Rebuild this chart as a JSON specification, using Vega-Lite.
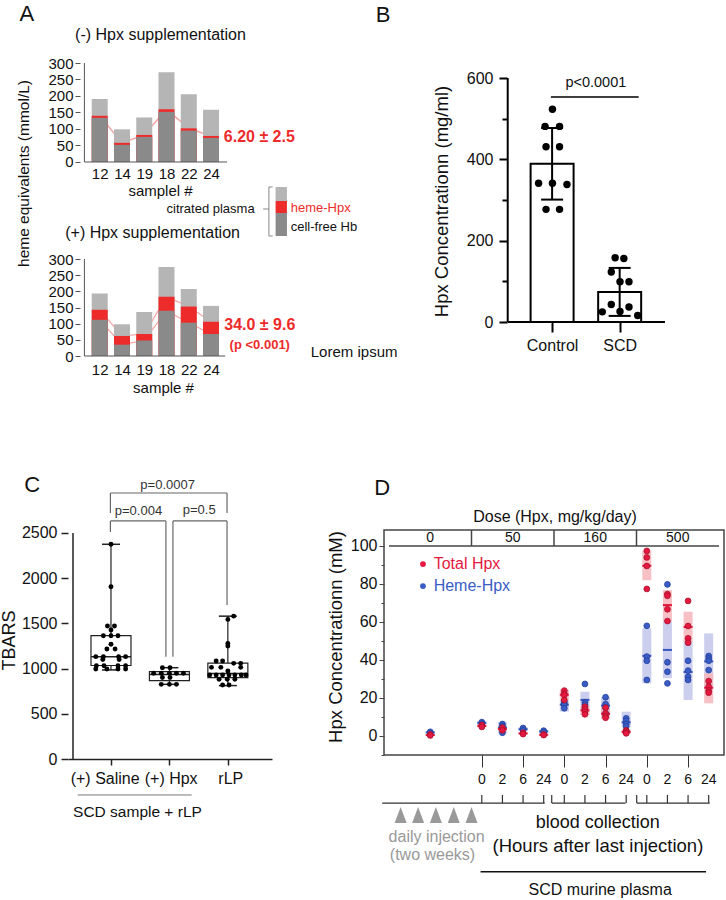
{
"$schema": "https://vega.github.io/schema/vega-lite/v6.json",
"autosize": "none",
"padding": {"left": 68, "top": 63, "right": 658, "bottom": 837},
"background": "white",
"config": {
 "font": "Liberation Sans",
 "view": {"stroke": null},
 "axis": {"grid": false, "labelColor": "#111", "titleColor": "#111", "domainColor": "#333", "tickColor": "#333", "labelFont": "Liberation Sans", "titleFont": "Liberation Sans", "labelOverlap": false, "labelFlush": false},
 "text": {"font": "Liberation Sans", "color": "#111"},
 "title": {"font": "Liberation Sans", "color": "#111"}
},
"datasets": {
 "A1": [
  {"sample":"12","idx":1,"hb":134,"hpx":140,"total":191},
  {"sample":"14","idx":2,"hb":52,"hpx":58,"total":99},
  {"sample":"19","idx":3,"hb":76,"hpx":82,"total":135},
  {"sample":"18","idx":4,"hb":152,"hpx":160,"total":272},
  {"sample":"22","idx":5,"hb":95,"hpx":102,"total":205},
  {"sample":"24","idx":6,"hb":73,"hpx":79,"total":158}
 ],
 "A2": [
  {"sample":"12","idx":1,"hb":112,"hpx":143,"total":193},
  {"sample":"14","idx":2,"hb":35,"hpx":62,"total":98},
  {"sample":"19","idx":3,"hb":48,"hpx":68,"total":136},
  {"sample":"18","idx":4,"hb":140,"hpx":183,"total":275},
  {"sample":"22","idx":5,"hb":103,"hpx":153,"total":207},
  {"sample":"24","idx":6,"hb":68,"hpx":106,"total":155}
 ],
 "Bsum": [
  {"group":"Control","idx":1,"mean":389,"lo":301,"hi":477},
  {"group":"SCD","idx":2,"mean":74,"lo":15,"hi":133}
 ],
 "Bdots": [
  {"group":"Control","pos":1.005,"v":523},{"group":"Control","pos":0.896,"v":481},{"group":"Control","pos":1.11,"v":481},
  {"group":"Control","pos":0.91,"v":431},{"group":"Control","pos":1.11,"v":431},{"group":"Control","pos":0.8,"v":341},
  {"group":"Control","pos":1.005,"v":341},{"group":"Control","pos":1.22,"v":338},{"group":"Control","pos":0.91,"v":277},
  {"group":"Control","pos":1.11,"v":277},
  {"group":"SCD","pos":1.933,"v":158},{"group":"SCD","pos":2.062,"v":156},{"group":"SCD","pos":1.876,"v":123},
  {"group":"SCD","pos":2.005,"v":99},{"group":"SCD","pos":2.138,"v":99},{"group":"SCD","pos":1.876,"v":43},
  {"group":"SCD","pos":2.138,"v":37},{"group":"SCD","pos":1.743,"v":25},{"group":"SCD","pos":2.005,"v":26},
  {"group":"SCD","pos":2.267,"v":16}
 ],
 "Cbox": [
  {"group":"(+) Saline","idx":1,"lo":985,"q1":1034,"med":1132,"q3":1364,"hi":2375},
  {"group":"(+) Hpx","idx":2,"lo":826,"q1":866,"med":935,"q3":966,"hi":1010},
  {"group":"rLP","idx":3,"lo":812,"q1":900,"med":945,"q3":1060,"hi":1580}
 ],
 "Cdots": [
  {"g":1,"pos":1.0,"v":2375},{"g":1,"pos":1.0,"v":1906},{"g":1,"pos":0.94,"v":1471},{"g":1,"pos":1.06,"v":1471},
  {"g":1,"pos":1.0,"v":1427},{"g":1,"pos":0.87,"v":1364},{"g":1,"pos":1.0,"v":1364},{"g":1,"pos":1.12,"v":1364},
  {"g":1,"pos":1.0,"v":1270},{"g":1,"pos":0.93,"v":1217},{"g":1,"pos":1.07,"v":1217},{"g":1,"pos":0.74,"v":1132},
  {"g":1,"pos":0.87,"v":1132},{"g":1,"pos":1.13,"v":1132},{"g":1,"pos":1.25,"v":1132},{"g":1,"pos":0.86,"v":1100},
  {"g":1,"pos":1.14,"v":1100},{"g":1,"pos":0.75,"v":1032},{"g":1,"pos":0.88,"v":1032},{"g":1,"pos":1.12,"v":1032},
  {"g":1,"pos":1.25,"v":1032},{"g":1,"pos":0.74,"v":995},{"g":1,"pos":0.93,"v":995},{"g":1,"pos":1.12,"v":995},
  {"g":1,"pos":1.25,"v":995},
  {"g":2,"pos":1.88,"v":1010},{"g":2,"pos":2.01,"v":1010},{"g":2,"pos":1.73,"v":948},{"g":2,"pos":1.86,"v":948},
  {"g":2,"pos":2.0,"v":948},{"g":2,"pos":2.12,"v":948},{"g":2,"pos":2.24,"v":948},{"g":2,"pos":1.88,"v":901},
  {"g":2,"pos":2.01,"v":901},{"g":2,"pos":1.86,"v":826},{"g":2,"pos":2.0,"v":826},{"g":2,"pos":2.12,"v":826},
  {"g":3,"pos":3.1,"v":1580},{"g":3,"pos":3.0,"v":1544},{"g":3,"pos":3.0,"v":1277},{"g":3,"pos":3.0,"v":1250},
  {"g":3,"pos":2.8,"v":1084},{"g":3,"pos":2.91,"v":1084},{"g":3,"pos":3.1,"v":1058},{"g":3,"pos":3.22,"v":1058},
  {"g":3,"pos":2.72,"v":1014},{"g":3,"pos":2.88,"v":1014},{"g":3,"pos":3.22,"v":1014},{"g":3,"pos":3.0,"v":973},
  {"g":3,"pos":2.69,"v":929},{"g":3,"pos":2.8,"v":929},{"g":3,"pos":2.91,"v":929},{"g":3,"pos":3.02,"v":929},
  {"g":3,"pos":3.12,"v":929},{"g":3,"pos":3.23,"v":929},{"g":3,"pos":3.31,"v":929},{"g":3,"pos":2.85,"v":882},
  {"g":3,"pos":2.99,"v":882},{"g":3,"pos":3.12,"v":882},{"g":3,"pos":2.91,"v":818},{"g":3,"pos":3.02,"v":818}
 ],
 "Dslots": [
  {"dose":50,"hour":"0","slot":0},{"dose":50,"hour":"2","slot":1},{"dose":50,"hour":"6","slot":2},{"dose":50,"hour":"24","slot":3},
  {"dose":160,"hour":"0","slot":4},{"dose":160,"hour":"2","slot":5},{"dose":160,"hour":"6","slot":6},{"dose":160,"hour":"24","slot":7},
  {"dose":500,"hour":"0","slot":8},{"dose":500,"hour":"2","slot":9},{"dose":500,"hour":"6","slot":10},{"dose":500,"hour":"24","slot":11}
 ],
 "Dsum": [
  {"slot":-2.5,"s":"Heme-Hpx","lo":1.3,"hi":2.5,"mean":1.9},
  {"slot":0,"s":"Heme-Hpx","lo":6.0,"hi":7.8,"mean":6.9},
  {"slot":1,"s":"Heme-Hpx","lo":1.5,"hi":7.3,"mean":4.4},
  {"slot":2,"s":"Heme-Hpx","lo":2.6,"hi":4.6,"mean":3.6},
  {"slot":3,"s":"Heme-Hpx","lo":1.6,"hi":3.2,"mean":2.4},
  {"slot":4,"s":"Heme-Hpx","lo":12.8,"hi":19.0,"mean":16.5},
  {"slot":5,"s":"Heme-Hpx","lo":15.1,"hi":23.3,"mean":19.0},
  {"slot":6,"s":"Heme-Hpx","lo":11.5,"hi":20.5,"mean":16.0},
  {"slot":7,"s":"Heme-Hpx","lo":4.6,"hi":12.8,"mean":7.2},
  {"slot":8,"s":"Heme-Hpx","lo":27.7,"hi":56.7,"mean":42.2},
  {"slot":9,"s":"Heme-Hpx","lo":30.4,"hi":60.2,"mean":45.3},
  {"slot":10,"s":"Heme-Hpx","lo":18.9,"hi":50.5,"mean":33.7},
  {"slot":11,"s":"Heme-Hpx","lo":25.2,"hi":54.0,"mean":39.3},
  {"slot":-2.5,"s":"Total Hpx","lo":0.1,"hi":0.9,"mean":0.5},
  {"slot":0,"s":"Total Hpx","lo":4.5,"hi":6.1,"mean":5.3},
  {"slot":1,"s":"Total Hpx","lo":2.6,"hi":4.8,"mean":3.7},
  {"slot":2,"s":"Total Hpx","lo":0.8,"hi":1.9,"mean":1.35},
  {"slot":3,"s":"Total Hpx","lo":0.3,"hi":1.0,"mean":0.65},
  {"slot":4,"s":"Total Hpx","lo":19.0,"hi":24.5,"mean":21.7},
  {"slot":5,"s":"Total Hpx","lo":11.0,"hi":16.0,"mean":13.5},
  {"slot":6,"s":"Total Hpx","lo":9.0,"hi":14.5,"mean":11.7},
  {"slot":7,"s":"Total Hpx","lo":1.0,"hi":3.4,"mean":2.2},
  {"slot":8,"s":"Total Hpx","lo":82.0,"hi":97.5,"mean":89.6},
  {"slot":9,"s":"Total Hpx","lo":60.2,"hi":76.8,"mean":68.9},
  {"slot":10,"s":"Total Hpx","lo":49.5,"hi":65.4,"mean":57.4},
  {"slot":11,"s":"Total Hpx","lo":17.2,"hi":33.0,"mean":25.4}
 ],
 "Ddots": [
  {"slot":-2.5,"dose":0,"s":"Heme-Hpx","v":2.2},{"slot":-2.5,"dose":0,"s":"Heme-Hpx","v":1.6},
  {"slot":0,"dose":50,"s":"Heme-Hpx","v":7.3},{"slot":0,"dose":50,"s":"Heme-Hpx","v":6.5},
  {"slot":1,"dose":50,"s":"Heme-Hpx","v":6.3},{"slot":1,"dose":50,"s":"Heme-Hpx","v":5.2},{"slot":1,"dose":50,"s":"Heme-Hpx","v":1.7},
  {"slot":2,"dose":50,"s":"Heme-Hpx","v":4.2},{"slot":2,"dose":50,"s":"Heme-Hpx","v":3.0},
  {"slot":3,"dose":50,"s":"Heme-Hpx","v":2.8},{"slot":3,"dose":50,"s":"Heme-Hpx","v":2.0},
  {"slot":4,"dose":160,"s":"Heme-Hpx","v":18.0},{"slot":4,"dose":160,"s":"Heme-Hpx","v":17.2},{"slot":4,"dose":160,"s":"Heme-Hpx","v":16.3},{"slot":4,"dose":160,"s":"Heme-Hpx","v":14.6},
  {"slot":5,"dose":160,"s":"Heme-Hpx","v":27.4},{"slot":5,"dose":160,"s":"Heme-Hpx","v":17.7},{"slot":5,"dose":160,"s":"Heme-Hpx","v":16.5},{"slot":5,"dose":160,"s":"Heme-Hpx","v":14.5},
  {"slot":6,"dose":160,"s":"Heme-Hpx","v":20.4},{"slot":6,"dose":160,"s":"Heme-Hpx","v":16.8},{"slot":6,"dose":160,"s":"Heme-Hpx","v":15.0},{"slot":6,"dose":160,"s":"Heme-Hpx","v":11.9},
  {"slot":7,"dose":160,"s":"Heme-Hpx","v":9.3},{"slot":7,"dose":160,"s":"Heme-Hpx","v":8.0},{"slot":7,"dose":160,"s":"Heme-Hpx","v":6.3},{"slot":7,"dose":160,"s":"Heme-Hpx","v":5.0},
  {"slot":8,"dose":500,"s":"Heme-Hpx","v":58.0},{"slot":8,"dose":500,"s":"Heme-Hpx","v":41.8},{"slot":8,"dose":500,"s":"Heme-Hpx","v":39.6},{"slot":8,"dose":500,"s":"Heme-Hpx","v":29.5},
  {"slot":9,"dose":500,"s":"Heme-Hpx","v":79.8},{"slot":9,"dose":500,"s":"Heme-Hpx","v":38.8},{"slot":9,"dose":500,"s":"Heme-Hpx","v":33.8},{"slot":9,"dose":500,"s":"Heme-Hpx","v":27.7},
  {"slot":10,"dose":500,"s":"Heme-Hpx","v":39.6},{"slot":10,"dose":500,"s":"Heme-Hpx","v":34.4},{"slot":10,"dose":500,"s":"Heme-Hpx","v":31.2},{"slot":10,"dose":500,"s":"Heme-Hpx","v":29.5},
  {"slot":11,"dose":500,"s":"Heme-Hpx","v":42.1},{"slot":11,"dose":500,"s":"Heme-Hpx","v":40.8},{"slot":11,"dose":500,"s":"Heme-Hpx","v":39.6},{"slot":11,"dose":500,"s":"Heme-Hpx","v":34.7},
  {"slot":-2.5,"dose":0,"s":"Total Hpx","v":0.8},{"slot":-2.5,"dose":0,"s":"Total Hpx","v":0.3},
  {"slot":0,"dose":50,"s":"Total Hpx","v":5.8},{"slot":0,"dose":50,"s":"Total Hpx","v":4.8},
  {"slot":1,"dose":50,"s":"Total Hpx","v":4.4},{"slot":1,"dose":50,"s":"Total Hpx","v":3.0},
  {"slot":2,"dose":50,"s":"Total Hpx","v":1.7},{"slot":2,"dose":50,"s":"Total Hpx","v":1.0},
  {"slot":3,"dose":50,"s":"Total Hpx","v":0.8},{"slot":3,"dose":50,"s":"Total Hpx","v":0.5},
  {"slot":4,"dose":160,"s":"Total Hpx","v":23.9},{"slot":4,"dose":160,"s":"Total Hpx","v":22.4},{"slot":4,"dose":160,"s":"Total Hpx","v":21.5},{"slot":4,"dose":160,"s":"Total Hpx","v":18.9},
  {"slot":5,"dose":160,"s":"Total Hpx","v":15.4},{"slot":5,"dose":160,"s":"Total Hpx","v":14.2},{"slot":5,"dose":160,"s":"Total Hpx","v":12.8},{"slot":5,"dose":160,"s":"Total Hpx","v":11.4},
  {"slot":6,"dose":160,"s":"Total Hpx","v":14.9},{"slot":6,"dose":160,"s":"Total Hpx","v":11.9},{"slot":6,"dose":160,"s":"Total Hpx","v":10.5},{"slot":6,"dose":160,"s":"Total Hpx","v":9.6},
  {"slot":7,"dose":160,"s":"Total Hpx","v":3.0},{"slot":7,"dose":160,"s":"Total Hpx","v":2.6},{"slot":7,"dose":160,"s":"Total Hpx","v":1.8},{"slot":7,"dose":160,"s":"Total Hpx","v":1.4},
  {"slot":8,"dose":500,"s":"Total Hpx","v":97.4},{"slot":8,"dose":500,"s":"Total Hpx","v":94.0},{"slot":8,"dose":500,"s":"Total Hpx","v":89.5},{"slot":8,"dose":500,"s":"Total Hpx","v":77.4},
  {"slot":9,"dose":500,"s":"Total Hpx","v":74.7},{"slot":9,"dose":500,"s":"Total Hpx","v":73.8},{"slot":9,"dose":500,"s":"Total Hpx","v":66.7},{"slot":9,"dose":500,"s":"Total Hpx","v":60.5},
  {"slot":10,"dose":500,"s":"Total Hpx","v":71.1},{"slot":10,"dose":500,"s":"Total Hpx","v":57.9},{"slot":10,"dose":500,"s":"Total Hpx","v":51.4},{"slot":10,"dose":500,"s":"Total Hpx","v":49.1},
  {"slot":11,"dose":500,"s":"Total Hpx","v":28.9},{"slot":11,"dose":500,"s":"Total Hpx","v":26.0},{"slot":11,"dose":500,"s":"Total Hpx","v":23.9},{"slot":11,"dose":500,"s":"Total Hpx","v":22.8}
 ],
 "Dinj": [
  {"day":1,"pos":-3.935},{"day":2,"pos":-3.088},{"day":3,"pos":-2.226},{"day":4,"pos":-1.362},{"day":5,"pos":-0.5}
 ]
},
"columns": 2,
"spacing": {"row": 174, "column": 112},
"bounds": "flush",
"align": "each",
"concat": [
 {
  "width": 204, "height": 293,
  "resolve": {"scale": {"y": "independent"}, "axis": {"x": "independent", "y": "independent"}},
  "layer": [
   {"layer": [
    {"data": {"name": "A1"}, "mark": {"type": "line", "color": "#f7a3a3", "strokeWidth": 1.5},
     "encoding": {
      "x": {"field": "idx", "type": "quantitative", "scale": {"domain": [-0.2, 8.514], "nice": false, "zero": false},
       "axis": {"orient": "bottom", "offset": -194, "values": [1,2,3,4,5,6], "labelExpr": "['','12','14','19','18','22','24'][datum.value]", "labelOverlap": false, "domain": false, "ticks": false, "tickSize": 0, "labelPadding": 4, "labelFontSize": 15, "title": "samplel #", "titleFontSize": 15, "titleFontWeight": "normal", "titleX": 92, "titleY": 28, "titleBaseline": "middle"}},
      "y": {"field": "hpx", "type": "quantitative", "scale": {"domain": [-587.9, 300], "nice": false, "zero": false},
       "axis": {"orient": "left", "offset": -12, "values": [0,50,100,150,200,250,300], "labelOverlap": false, "domain": false, "tickSize": 5, "tickColor": "#555", "labelFontSize": 15, "labelPadding": 2, "title": "heme equivalents (mmol/L)", "titleFontSize": 15.5, "titleFontWeight": "normal", "titleX": -57, "titleY": 110, "titleBaseline": "middle", "titleAngle": 270}}
     }},
    {"data": {"name": "A1"}, "mark": {"type": "bar", "size": 16, "color": "#b5b5b5"}, "encoding": {"x": {"field": "idx", "type": "quantitative"}, "y": {"field": "total", "type": "quantitative"}, "y2": {"datum": 0}}},
    {"data": {"name": "A1"}, "mark": {"type": "bar", "size": 16, "color": "#ee2b2b"}, "encoding": {"x": {"field": "idx", "type": "quantitative"}, "y": {"field": "hpx", "type": "quantitative"}, "y2": {"datum": 0}}},
    {"data": {"name": "A1"}, "mark": {"type": "bar", "size": 16, "color": "#8a8a8a"}, "encoding": {"x": {"field": "idx", "type": "quantitative"}, "y": {"field": "hb", "type": "quantitative"}, "y2": {"datum": 0}}},
    {"data": {"values": [{}]}, "mark": {"type": "rule", "color": "#555", "strokeWidth": 1}, "encoding": {"x": {"datum": 0.313}, "y": {"datum": 0}, "y2": {"datum": 300}}},
    {"data": {"values": [{}]}, "mark": {"type": "rule", "color": "#555", "strokeWidth": 1}, "encoding": {"x": {"datum": 0.313}, "x2": {"datum": 6.72}, "y": {"datum": 0}}},
    {"data": {"values": [{}]}, "mark": {"type": "text", "text": "A", "fontSize": 22, "align": "center", "baseline": "middle"}, "encoding": {"x": {"datum": -2.27}, "y": {"datum": 450}}},
    {"data": {"values": [{}]}, "mark": {"type": "text", "text": "(-) Hpx supplementation", "fontSize": 16, "align": "center", "baseline": "middle"}, "encoding": {"x": {"datum": 3.73}, "y": {"datum": 384.8}}},
    {"data": {"values": [{}]}, "mark": {"type": "text", "text": "6.20 ± 2.5", "fontSize": 16, "fontWeight": "bold", "color": "#ee2b2b", "align": "center", "baseline": "middle"}, "encoding": {"x": {"datum": 8.17}, "y": {"datum": 75.8}}},
    {"data": {"values": [{}]}, "mark": {"type": "rect", "color": "#b5b5b5"}, "encoding": {"x": {"datum": 8.9}, "x2": {"datum": 9.41}, "y": {"datum": -75.8}, "y2": {"datum": -118.2}}},
    {"data": {"values": [{}]}, "mark": {"type": "rect", "color": "#ee2b2b"}, "encoding": {"x": {"datum": 8.9}, "x2": {"datum": 9.41}, "y": {"datum": -118.2}, "y2": {"datum": -154.5}}},
    {"data": {"values": [{}]}, "mark": {"type": "rect", "color": "#8a8a8a"}, "encoding": {"x": {"datum": 8.9}, "x2": {"datum": 9.41}, "y": {"datum": -154.5}, "y2": {"datum": -224.2}}},
    {"data": {"values": [{}]}, "mark": {"type": "rule", "color": "#888", "strokeWidth": 1}, "encoding": {"x": {"datum": 8.6}, "y": {"datum": -75.8}, "y2": {"datum": -224.2}}},
    {"data": {"values": [{}]}, "mark": {"type": "rule", "color": "#888", "strokeWidth": 1}, "encoding": {"x": {"datum": 8.6}, "x2": {"datum": 8.77}, "y": {"datum": -75.8}}},
    {"data": {"values": [{}]}, "mark": {"type": "rule", "color": "#888", "strokeWidth": 1}, "encoding": {"x": {"datum": 8.6}, "x2": {"datum": 8.77}, "y": {"datum": -224.2}}},
    {"data": {"values": [{}]}, "mark": {"type": "rule", "color": "#888", "strokeWidth": 1}, "encoding": {"x": {"datum": 8.34}, "x2": {"datum": 8.6}, "y": {"datum": -142.4}}},
    {"data": {"values": [{}]}, "mark": {"type": "text", "text": "citrated plasma", "fontSize": 13, "align": "right", "baseline": "middle"}, "encoding": {"x": {"datum": 7.96}, "y": {"datum": -142.4}}},
    {"data": {"values": [{}]}, "mark": {"type": "text", "text": "heme-Hpx", "fontSize": 13, "color": "#ee2b2b", "align": "left", "baseline": "middle"}, "encoding": {"x": {"datum": 9.58}, "y": {"datum": -139.4}}},
    {"data": {"values": [{}]}, "mark": {"type": "text", "text": "cell-free Hb", "fontSize": 13, "align": "left", "baseline": "middle"}, "encoding": {"x": {"datum": 9.58}, "y": {"datum": -197}}}
   ]},
   {"layer": [
    {"data": {"name": "A2"}, "mark": {"type": "line", "color": "#f7a3a3", "strokeWidth": 1.2},
     "encoding": {
      "x": {"field": "idx", "type": "quantitative", "scale": {"domain": [-0.2, 8.514], "nice": false, "zero": false},
       "axis": {"orient": "bottom", "offset": 0, "values": [1,2,3,4,5,6], "labelExpr": "['','12','14','19','18','22','24'][datum.value]", "labelOverlap": false, "domain": false, "ticks": false, "tickSize": 0, "labelPadding": 6, "labelFontSize": 15, "title": "sample #", "titleFontSize": 15, "titleFontWeight": "normal", "titleX": 95, "titleY": 31, "titleBaseline": "middle"}},
      "y": {"field": "hpx", "type": "quantitative", "scale": {"domain": [0, 906.2], "nice": false, "zero": false},
       "axis": {"orient": "left", "offset": -12, "values": [0,50,100,150,200,250,300], "labelOverlap": false, "domain": false, "tickSize": 5, "tickColor": "#555", "labelFontSize": 15, "labelPadding": 2, "title": null}}
     }},
    {"data": {"name": "A2"}, "mark": {"type": "line", "color": "#f7a3a3", "strokeWidth": 1.2}, "encoding": {"x": {"field": "idx", "type": "quantitative"}, "y": {"field": "hb", "type": "quantitative"}}},
    {"data": {"name": "A2"}, "mark": {"type": "bar", "size": 16, "color": "#b5b5b5"}, "encoding": {"x": {"field": "idx", "type": "quantitative"}, "y": {"field": "total", "type": "quantitative"}, "y2": {"datum": 0}}},
    {"data": {"name": "A2"}, "mark": {"type": "bar", "size": 16, "color": "#ee2b2b"}, "encoding": {"x": {"field": "idx", "type": "quantitative"}, "y": {"field": "hpx", "type": "quantitative"}, "y2": {"datum": 0}}},
    {"data": {"name": "A2"}, "mark": {"type": "bar", "size": 16, "color": "#8a8a8a"}, "encoding": {"x": {"field": "idx", "type": "quantitative"}, "y": {"field": "hb", "type": "quantitative"}, "y2": {"datum": 0}}},
    {"data": {"values": [{}]}, "mark": {"type": "rule", "color": "#555", "strokeWidth": 1}, "encoding": {"x": {"datum": 0.313}, "y": {"datum": 0}, "y2": {"datum": 300}}},
    {"data": {"values": [{}]}, "mark": {"type": "rule", "color": "#555", "strokeWidth": 1}, "encoding": {"x": {"datum": 0.313}, "x2": {"datum": 6.64}, "y": {"datum": 0}}},
    {"data": {"values": [{}]}, "mark": {"type": "text", "text": "(+) Hpx supplementation", "fontSize": 16, "align": "center", "baseline": "middle"}, "encoding": {"x": {"datum": 3.375}, "y": {"datum": 380.4}}},
    {"data": {"values": [{}]}, "mark": {"type": "text", "text": "34.0 ± 9.6", "fontSize": 16, "fontWeight": "bold", "color": "#ee2b2b", "align": "center", "baseline": "middle"}, "encoding": {"x": {"datum": 8.19}, "y": {"datum": 95.9}}},
    {"data": {"values": [{}]}, "mark": {"type": "text", "text": "(p <0.001)", "fontSize": 13, "fontWeight": "bold", "color": "#ee2b2b", "align": "center", "baseline": "middle"}, "encoding": {"x": {"datum": 8.19}, "y": {"datum": 34}}},
    {"data": {"values": [{}]}, "mark": {"type": "text", "text": "Lorem ipsum", "fontSize": 15, "align": "left", "baseline": "middle"}, "encoding": {"x": {"datum": 10.48}, "y": {"datum": 12.4}}}
   ]}
  ]
 },
 {
  "width": 286, "height": 293,
  "resolve": {"axis": {"y": "independent"}},
  "layer": [
   {"layer": [
    {"data": {"name": "Bsum"}, "mark": {"type": "bar", "size": 43, "fill": "white", "stroke": "black", "strokeWidth": 2},
     "encoding": {
      "x": {"field": "idx", "type": "quantitative", "scale": {"domain": [-1.414, 2.671], "nice": false, "zero": false},
       "axis": {"orient": "bottom", "offset": -34, "values": [1,2], "labelExpr": "datum.value == 1 ? 'Control' : 'SCD'", "labelOverlap": false, "domain": false, "tickSize": 10, "tickWidth": 2, "tickColor": "black", "labelFontSize": 16, "labelPadding": 5, "title": null}},
      "y": {"field": "mean", "type": "quantitative", "scale": {"domain": [-83.6, 636.9], "nice": false, "zero": false},
       "axis": {"orient": "left", "offset": -123, "values": [0,200,400,600], "labelOverlap": false, "domain": false, "tickSize": 8, "tickWidth": 2, "tickColor": "black", "labelFontSize": 16, "labelPadding": 6, "title": "Hpx Concentrationn (mg/ml)", "titleFontSize": 18.5, "titleFontWeight": "normal", "titleX": -65.5, "titleY": 138, "titleBaseline": "middle", "titleAngle": 270}},
      "y2": {"datum": 0}
     }},
    {"data": {"name": "Bsum"}, "mark": {"type": "rule", "color": "black", "strokeWidth": 2}, "encoding": {"x": {"field": "idx", "type": "quantitative"}, "y": {"field": "lo", "type": "quantitative"}, "y2": {"field": "hi"}}},
    {"data": {"name": "Bsum"}, "mark": {"type": "tick", "orient": "horizontal", "size": 22, "thickness": 2, "color": "black", "opacity": 1}, "encoding": {"x": {"field": "idx", "type": "quantitative"}, "y": {"field": "hi", "type": "quantitative"}}},
    {"data": {"name": "Bsum"}, "mark": {"type": "tick", "orient": "horizontal", "size": 22, "thickness": 2, "color": "black", "opacity": 1}, "encoding": {"x": {"field": "idx", "type": "quantitative"}, "y": {"field": "lo", "type": "quantitative"}}},
    {"data": {"name": "Bdots"}, "mark": {"type": "circle", "size": 55, "color": "black", "opacity": 1}, "encoding": {"x": {"field": "pos", "type": "quantitative"}, "y": {"field": "v", "type": "quantitative"}}},
    {"data": {"values": [{}]}, "mark": {"type": "rule", "color": "black", "strokeWidth": 2}, "encoding": {"x": {"datum": 0.343}, "x2": {"datum": 2.671}, "y": {"datum": 0}}},
    {"data": {"values": [{}]}, "mark": {"type": "rule", "color": "black", "strokeWidth": 1.5}, "encoding": {"x": {"datum": 0.982}, "x2": {"datum": 2.281}, "y": {"datum": 553}}},
    {"data": {"values": [{}]}, "mark": {"type": "text", "text": "p<0.0001", "fontSize": 14.5, "align": "center", "baseline": "middle"}, "encoding": {"x": {"datum": 1.647}, "y": {"datum": 587}}},
    {"data": {"values": [{}]}, "mark": {"type": "text", "text": "B", "fontSize": 22, "align": "center", "baseline": "middle"}, "encoding": {"x": {"datum": -1.5}, "y": {"datum": 755}}}
   ]},
   {"data": {"values": [{}]}, "mark": {"type": "rule", "color": "black", "strokeWidth": 2},
    "encoding": {"x": {"datum": 0.343}, "y": {"datum": 0, "axis": {"orient": "left", "offset": -123, "values": [100,300,500], "labels": false, "domain": false, "tickSize": 5, "tickWidth": 2, "tickColor": "black", "title": null}}, "y2": {"datum": 600}}}
  ]
 },
 {
  "width": 204, "height": 229,
  "layer": [
   {"data": {"name": "Cbox"}, "mark": {"type": "rule", "color": "#222", "strokeWidth": 1.2},
    "encoding": {
     "x": {"field": "idx", "type": "quantitative", "scale": {"domain": [0.35, 3.67], "nice": false, "zero": false},
      "axis": {"orient": "bottom", "values": [1,2,3], "labels": false, "domainColor": "#222", "domainWidth": 1.5, "tickSize": 6, "tickWidth": 1.5, "tickColor": "#222", "title": null}},
     "y": {"field": "lo", "type": "quantitative", "scale": {"domain": [0, 2533], "nice": false, "zero": false},
      "axis": {"orient": "left", "values": [0,500,1000,1500,2000,2500], "format": "d", "labelOverlap": false, "domain": false, "tickSize": 7, "tickWidth": 1.5, "tickColor": "#222", "labelFontSize": 16, "labelPadding": 4, "title": "TBARS", "titleFontSize": 18, "titleFontWeight": "normal", "titleX": -58.5, "titleY": 110, "titleBaseline": "middle", "titleAngle": 270}},
     "y2": {"field": "hi"}
    }},
   {"data": {"name": "Cbox"}, "mark": {"type": "bar", "size": 40, "fill": "white", "stroke": "#222", "strokeWidth": 1.2}, "encoding": {"x": {"field": "idx", "type": "quantitative"}, "y": {"field": "q3", "type": "quantitative"}, "y2": {"field": "q1"}}},
   {"data": {"name": "Cbox"}, "mark": {"type": "tick", "orient": "horizontal", "size": 40, "thickness": 1.5, "color": "#222", "opacity": 1}, "encoding": {"x": {"field": "idx", "type": "quantitative"}, "y": {"field": "med", "type": "quantitative"}}},
   {"data": {"name": "Cbox"}, "mark": {"type": "tick", "orient": "horizontal", "size": 18, "thickness": 1.5, "color": "#222", "opacity": 1}, "encoding": {"x": {"field": "idx", "type": "quantitative"}, "y": {"field": "hi", "type": "quantitative"}}},
   {"data": {"name": "Cbox"}, "mark": {"type": "tick", "orient": "horizontal", "size": 18, "thickness": 1.5, "color": "#222", "opacity": 1}, "encoding": {"x": {"field": "idx", "type": "quantitative"}, "y": {"field": "lo", "type": "quantitative"}}},
   {"data": {"name": "Cdots"}, "mark": {"type": "circle", "size": 24, "color": "black", "opacity": 1}, "encoding": {"x": {"field": "pos", "type": "quantitative"}, "y": {"field": "v", "type": "quantitative"}}},
   {"data": {"values": [{}]}, "mark": {"type": "rule", "color": "#222", "strokeWidth": 1.5}, "encoding": {"x": {"datum": 0.35}, "y": {"datum": 0}, "y2": {"datum": 2500}}},
   {"data": {"values": [{}]}, "mark": {"type": "rule", "color": "#666", "strokeWidth": 1.2}, "encoding": {"x": {"datum": 0.99}, "x2": {"datum": 2.986}, "y": {"datum": 2942}}},
   {"data": {"values": [{}]}, "mark": {"type": "rule", "color": "#666", "strokeWidth": 1.2}, "encoding": {"x": {"datum": 0.99}, "y": {"datum": 2942}, "y2": {"datum": 2721}}},
   {"data": {"values": [{}]}, "mark": {"type": "rule", "color": "#666", "strokeWidth": 1.2}, "encoding": {"x": {"datum": 2.986}, "y": {"datum": 2942}, "y2": {"datum": 2721}}},
   {"data": {"values": [{}]}, "mark": {"type": "rule", "color": "#666", "strokeWidth": 1.2}, "encoding": {"x": {"datum": 0.99}, "x2": {"datum": 1.94}, "y": {"datum": 2633}}},
   {"data": {"values": [{}]}, "mark": {"type": "rule", "color": "#666", "strokeWidth": 1.2}, "encoding": {"x": {"datum": 0.99}, "y": {"datum": 2633}, "y2": {"datum": 2511}}},
   {"data": {"values": [{}]}, "mark": {"type": "rule", "color": "#666", "strokeWidth": 1.2}, "encoding": {"x": {"datum": 1.94}, "y": {"datum": 2633}, "y2": {"datum": 1132}}},
   {"data": {"values": [{}]}, "mark": {"type": "rule", "color": "#666", "strokeWidth": 1.2}, "encoding": {"x": {"datum": 2.06}, "x2": {"datum": 2.986}, "y": {"datum": 2633}}},
   {"data": {"values": [{}]}, "mark": {"type": "rule", "color": "#666", "strokeWidth": 1.2}, "encoding": {"x": {"datum": 2.06}, "y": {"datum": 2633}, "y2": {"datum": 1132}}},
   {"data": {"values": [{}]}, "mark": {"type": "rule", "color": "#666", "strokeWidth": 1.2}, "encoding": {"x": {"datum": 2.986}, "y": {"datum": 2633}, "y2": {"datum": 1703}}},
   {"data": {"values": [{}]}, "mark": {"type": "rule", "color": "#777", "strokeWidth": 1}, "encoding": {"x": {"datum": 0.43}, "x2": {"datum": 2.38}, "y": {"datum": -398}}},
   {"data": {"values": [{}]}, "mark": {"type": "text", "text": "(+) Saline", "fontSize": 16, "align": "center", "baseline": "middle"}, "encoding": {"x": {"datum": 0.9}, "y": {"datum": -224.6}}},
   {"data": {"values": [{}]}, "mark": {"type": "text", "text": "(+) Hpx", "fontSize": 16, "align": "center", "baseline": "middle"}, "encoding": {"x": {"datum": 2.03}, "y": {"datum": -224.6}}},
   {"data": {"values": [{}]}, "mark": {"type": "text", "text": "rLP", "fontSize": 16, "align": "center", "baseline": "middle"}, "encoding": {"x": {"datum": 3.05}, "y": {"datum": -224.6}}},
   {"data": {"values": [{}]}, "mark": {"type": "text", "text": "p=0.0007", "fontSize": 13, "color": "#333", "align": "center", "baseline": "middle"}, "encoding": {"x": {"datum": 1.97}, "y": {"datum": 3031}}},
   {"data": {"values": [{}]}, "mark": {"type": "text", "text": "p=0.004", "fontSize": 13, "color": "#333", "align": "center", "baseline": "middle"}, "encoding": {"x": {"datum": 1.47}, "y": {"datum": 2743}}},
   {"data": {"values": [{}]}, "mark": {"type": "text", "text": "p=0.5", "fontSize": 13, "color": "#333", "align": "center", "baseline": "middle"}, "encoding": {"x": {"datum": 2.51}, "y": {"datum": 2754}}},
   {"data": {"values": [{}]}, "mark": {"type": "text", "text": "C", "fontSize": 22, "align": "center", "baseline": "middle"}, "encoding": {"x": {"datum": -0.35}, "y": {"datum": 3031}}},
   {"data": {"values": [{}]}, "mark": {"type": "text", "text": "SCD sample + rLP", "fontSize": 15.5, "align": "center", "baseline": "middle"}, "encoding": {"x": {"datum": 1.453}, "y": {"datum": -584}}}
  ]
 },
 {
  "width": 340, "height": 225,
  "view": {"stroke": "#444", "strokeWidth": 1.5},
  "resolve": {"axis": {"y": "independent"}},
  "layer": [
   {"layer": [
    {"data": {"name": "Dsum"}, "transform": [{"filter": "datum.s == 'Heme-Hpx'"}], "mark": {"type": "bar", "size": 9, "color": "#c3c6ea", "opacity": 0.85},
     "encoding": {
      "x": {"field": "slot", "type": "quantitative", "scale": {"domain": [-4.5, 11.5], "nice": false, "zero": false},
       "axis": {"orient": "bottom", "values": [0,1,2,3,4,5,6,7,8,9,10,11], "labels": false, "domain": false, "tickSize": 12, "tickColor": "#333", "title": null}},
      "y": {"field": "lo", "type": "quantitative", "scale": {"domain": [-10, 108.42], "nice": false, "zero": false},
       "axis": {"orient": "left", "values": [0,20,40,60,80,100], "labelOverlap": false, "domain": false, "tickSize": 5, "tickColor": "#444", "labelFontSize": 16, "labelPadding": 2, "title": "Hpx Concentrationn (mM)", "titleFontSize": 18.5, "titleFontWeight": "normal", "titleX": -48.5, "titleY": 106.5, "titleBaseline": "middle", "titleAngle": 270}},
      "y2": {"field": "hi"}
     }},
    {"data": {"name": "Dsum"}, "transform": [{"filter": "datum.s == 'Total Hpx'"}], "mark": {"type": "bar", "size": 9, "color": "#f5b5ba", "opacity": 0.85}, "encoding": {"x": {"field": "slot", "type": "quantitative"}, "y": {"field": "lo", "type": "quantitative"}, "y2": {"field": "hi"}}},
    {"data": {"name": "Dsum"}, "mark": {"type": "tick", "orient": "horizontal", "size": 9, "thickness": 2, "opacity": 1},
     "encoding": {"x": {"field": "slot", "type": "quantitative"}, "y": {"field": "mean", "type": "quantitative"}, "color": {"field": "s", "type": "nominal", "scale": {"domain": ["Heme-Hpx", "Total Hpx"], "range": ["#3656c0", "#e3173e"]}, "legend": null}}},
    {"data": {"name": "Ddots"}, "mark": {"type": "circle", "size": 34, "opacity": 1, "strokeWidth": 0.8},
     "encoding": {"x": {"field": "slot", "type": "quantitative"}, "y": {"field": "v", "type": "quantitative"},
      "fill": {"field": "s", "type": "nominal", "scale": {"domain": ["Heme-Hpx", "Total Hpx"], "range": ["#3a5cc4", "#e5183f"]}, "legend": null},
      "stroke": {"field": "s", "type": "nominal", "scale": {"domain": ["Heme-Hpx", "Total Hpx"], "range": ["#22409a", "#a8102c"]}, "legend": null}}},
    {"data": {"values": [{}]}, "mark": {"type": "rule", "color": "#444", "strokeWidth": 1.5}, "encoding": {"x": {"datum": -0.5}, "y": {"datum": 100}, "y2": {"datum": 108.42}}},
    {"data": {"values": [{}]}, "mark": {"type": "rule", "color": "#444", "strokeWidth": 1.5}, "encoding": {"x": {"datum": 3.5}, "y": {"datum": 100}, "y2": {"datum": 108.42}}},
    {"data": {"values": [{}]}, "mark": {"type": "rule", "color": "#444", "strokeWidth": 1.5}, "encoding": {"x": {"datum": 7.5}, "y": {"datum": 100}, "y2": {"datum": 108.42}}},
    {"data": {"name": "Ddots"}, "transform": [{"aggregate": [{"op": "count", "as": "n"}], "groupby": ["dose", "slot"]}, {"aggregate": [{"op": "mean", "field": "slot", "as": "mid"}], "groupby": ["dose"]}],
     "mark": {"type": "text", "fontSize": 14, "align": "center", "baseline": "middle"},
     "encoding": {"x": {"field": "mid", "type": "quantitative"}, "y": {"datum": 104.2}, "text": {"field": "dose", "type": "nominal"}}},
    {"data": {"name": "Dslots"}, "mark": {"type": "text", "fontSize": 14, "align": "center", "baseline": "middle"},
     "encoding": {"x": {"field": "slot", "type": "quantitative"}, "y": {"datum": -22.9}, "text": {"field": "hour", "type": "nominal"}}},
    {"data": {"values": [{}]}, "mark": {"type": "text", "text": "Dose (Hpx, mg/kg/day)", "fontSize": 16, "align": "center", "baseline": "middle"}, "encoding": {"x": {"datum": 3.547}, "y": {"datum": 115.3}}},
    {"data": {"values": [{}]}, "mark": {"type": "circle", "size": 34, "color": "#e5183f", "opacity": 1}, "encoding": {"x": {"datum": -2.853}, "y": {"datum": 90.5}}},
    {"data": {"values": [{}]}, "mark": {"type": "circle", "size": 34, "color": "#3a5cc4", "opacity": 1}, "encoding": {"x": {"datum": -2.853}, "y": {"datum": 78.9}}},
    {"data": {"values": [{}]}, "mark": {"type": "text", "text": "Total Hpx", "fontSize": 16, "color": "#e5183f", "align": "left", "baseline": "middle"}, "encoding": {"x": {"datum": -2.335}, "y": {"datum": 90.3}}},
    {"data": {"values": [{}]}, "mark": {"type": "text", "text": "Heme-Hpx", "fontSize": 16, "color": "#3a5cc4", "align": "left", "baseline": "middle"}, "encoding": {"x": {"datum": -2.335}, "y": {"datum": 78.7}}},
    {"data": {"values": [{}]}, "mark": {"type": "text", "text": "D", "fontSize": 22, "align": "center", "baseline": "middle"}, "encoding": {"x": {"datum": -4.83}, "y": {"datum": 130.5}}},
    {"data": {"values": [{}]}, "mark": {"type": "rule", "color": "#333", "strokeWidth": 1.2}, "encoding": {"x": {"datum": -4.83}, "x2": {"datum": 3.05}, "y": {"datum": -35.3}}},
    {"data": {"values": [{}]}, "mark": {"type": "rule", "color": "#333", "strokeWidth": 1.2}, "encoding": {"x": {"datum": 3.39}, "x2": {"datum": 6.97}, "y": {"datum": -35.3}}},
    {"data": {"values": [{}]}, "mark": {"type": "rule", "color": "#333", "strokeWidth": 1.2}, "encoding": {"x": {"datum": 7.51}, "x2": {"datum": 11.05}, "y": {"datum": -35.3}}},
    {"data": {"values": [{}]}, "mark": {"type": "rule", "color": "#333", "strokeWidth": 1.2}, "encoding": {"x": {"datum": 3.39}, "y": {"datum": -35.3}, "y2": {"datum": -31}}},
    {"data": {"values": [{}]}, "mark": {"type": "rule", "color": "#333", "strokeWidth": 1.2}, "encoding": {"x": {"datum": 7.51}, "y": {"datum": -35.3}, "y2": {"datum": -31}}},
    {"data": {"name": "Dslots"}, "mark": {"type": "rule", "color": "#333", "strokeWidth": 1.2},
     "encoding": {"x": {"field": "slot", "type": "quantitative"}, "y": {"datum": -35.3}, "y2": {"datum": -31}}},
    {"data": {"name": "Dinj"}, "mark": {"type": "point", "shape": "M0,-1L0.75,1L-0.75,1Z", "filled": true, "size": 256, "color": "#999", "opacity": 1},
     "encoding": {"x": {"field": "pos", "type": "quantitative"}, "y": {"datum": -41.6}}},
    {"data": {"values": [{}]}, "mark": {"type": "text", "text": "daily injection", "fontSize": 16, "color": "#999", "align": "center", "baseline": "middle"}, "encoding": {"x": {"datum": -2.19}, "y": {"datum": -53.2}}},
    {"data": {"values": [{}]}, "mark": {"type": "text", "text": "(two weeks)", "fontSize": 16, "color": "#999", "align": "center", "baseline": "middle"}, "encoding": {"x": {"datum": -2.39}, "y": {"datum": -62.6}}},
    {"data": {"values": [{}]}, "mark": {"type": "text", "text": "blood collection", "fontSize": 18, "align": "center", "baseline": "middle"}, "encoding": {"x": {"datum": 5.62}, "y": {"datum": -45.8}}},
    {"data": {"values": [{}]}, "mark": {"type": "text", "text": "(Hours after last injection)", "fontSize": 18.5, "align": "center", "baseline": "middle"}, "encoding": {"x": {"datum": 5.63}, "y": {"datum": -57.9}}},
    {"data": {"values": [{}]}, "mark": {"type": "rule", "color": "#111", "strokeWidth": 1.5}, "encoding": {"x": {"datum": -0.06}, "x2": {"datum": 10.87}, "y": {"datum": -71.4}}},
    {"data": {"values": [{}]}, "mark": {"type": "text", "text": "SCD murine plasma", "fontSize": 16, "align": "center", "baseline": "middle"}, "encoding": {"x": {"datum": 5.74}, "y": {"datum": -81}}}
   ]},
   {"data": {"values": [{}]}, "mark": {"type": "rule", "color": "#444", "strokeWidth": 1.5},
    "encoding": {"x": {"datum": -4.5}, "x2": {"datum": 11.5}, "y": {"datum": 100, "axis": {"orient": "left", "values": [-10,10,30,50,70,90], "labels": false, "domain": false, "tickSize": 3, "tickColor": "#444", "title": null}}}}
  ]
 }
]
}
